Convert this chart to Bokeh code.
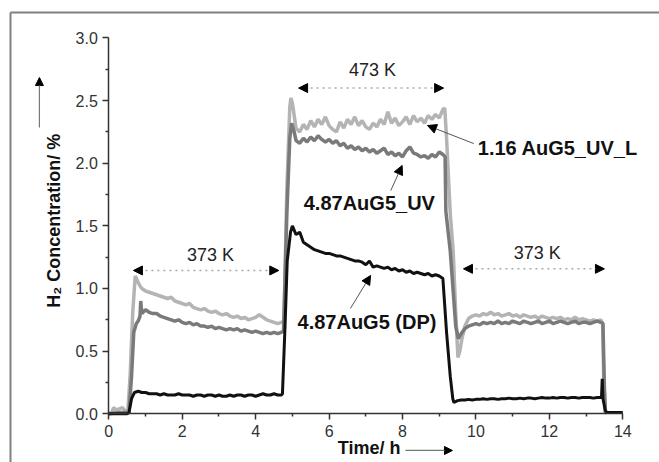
import numpy as np
from bokeh.plotting import figure
from bokeh.models import Range1d, FixedTicker, NumeralTickFormatter, Label, Arrow, NormalHead
from bokeh.embed import file_html
from bokeh.resources import INLINE

# ---------------- data ----------------
x_ticks = [0, 2, 4, 6, 8, 10, 12, 14]
x_minor = [1, 3, 5, 7, 9, 11, 13]
y_ticks = [0.0, 0.5, 1.0, 1.5, 2.0, 2.5, 3.0]
y_minor = [0.25, 0.75, 1.25, 1.75, 2.25, 2.75]


def grid(a, b):
    return [round(v, 2) for v in np.arange(a, b + 0.05, 0.1)]


# 4.87AuG5 (DP) - black
t_dp = ([0.0, 0.5, 0.55, 0.62, 0.7] + grid(0.8, 4.7) + [4.73, 4.8, 4.86, 4.95]
        + grid(5.0, 9.0) + [9.1, 9.13, 9.2, 9.3, 9.37, 9.4, 9.5] + grid(9.6, 13.4)
        + [13.42, 13.44, 13.46, 13.52, 13.56, 14.0])
h2_dp = ([0.0, 0.0, 0.01, 0.12, 0.17]
         + [0.18, 0.17, 0.17, 0.16, 0.16, 0.16, 0.15, 0.16, 0.15, 0.15,
            0.15, 0.16, 0.15, 0.15, 0.15, 0.14, 0.15, 0.15, 0.14, 0.15,
            0.15, 0.14, 0.15, 0.14, 0.14, 0.15, 0.14, 0.15, 0.15, 0.14,
            0.15, 0.15, 0.14, 0.15, 0.16, 0.15, 0.15, 0.16, 0.15, 0.15]
         + [0.16, 0.7, 1.22, 1.45]
         + [1.50, 1.43, 1.45, 1.37, 1.35, 1.33, 1.31, 1.30, 1.29, 1.28,
            1.28, 1.27, 1.26, 1.26, 1.25, 1.24, 1.23, 1.22, 1.22, 1.21,
            1.19, 1.22, 1.17, 1.18, 1.17, 1.16, 1.17, 1.15, 1.16, 1.14,
            1.15, 1.13, 1.14, 1.12, 1.13, 1.12, 1.11, 1.12, 1.10, 1.11, 1.10]
         + [1.08, 0.95, 0.65, 0.3, 0.12, 0.09, 0.105]
         + [0.11, 0.11, 0.115, 0.11, 0.115,
            0.115, 0.12, 0.115, 0.12, 0.12, 0.115, 0.12, 0.12, 0.125, 0.12,
            0.12, 0.125, 0.12, 0.125, 0.125, 0.12, 0.125, 0.13, 0.125, 0.125,
            0.13, 0.125, 0.13, 0.13, 0.125, 0.13, 0.13, 0.125, 0.13, 0.13,
            0.13, 0.125, 0.13, 0.13]
         + [0.13, 0.28, 0.12, 0.03, 0.01, 0.01])

# 4.87AuG5_UV - dark grey
t_uv = ([0.0, 0.3, 0.55, 0.62, 0.68, 0.75, 0.8, 0.85, 0.87, 0.9] + grid(1.0, 4.7)
        + [4.76, 4.85, 4.93, 4.98, 5.05] + grid(5.1, 9.1)
        + [9.16, 9.18, 9.3, 9.45, 9.52, 9.6, 9.7] + grid(9.8, 13.4) + [13.46, 13.5, 13.53])
h2_uv = ([0.0, 0.01, 0.01, 0.3, 0.65, 0.72, 0.74, 0.78, 0.90, 0.80]
         + [0.83, 0.81, 0.80, 0.80, 0.78, 0.77, 0.76, 0.75, 0.74, 0.75,
            0.73, 0.72, 0.73, 0.71, 0.72, 0.70, 0.70, 0.69, 0.70, 0.68,
            0.69, 0.68, 0.67, 0.68, 0.67, 0.68, 0.66, 0.67, 0.66, 0.65,
            0.66, 0.65, 0.64, 0.65, 0.64, 0.65, 0.64, 0.65]
         + [0.66, 1.6, 2.2, 2.32, 2.25]
         + [2.18, 2.16, 2.20, 2.17, 2.21, 2.18, 2.22, 2.19, 2.17,
            2.19, 2.16, 2.18, 2.14, 2.16, 2.12, 2.14, 2.11, 2.13, 2.10,
            2.12, 2.09, 2.11, 2.08, 2.10, 2.12, 2.07, 2.09, 2.06, 2.08,
            2.05, 2.10, 2.13, 2.08, 2.07, 2.05, 2.06, 2.04, 2.07, 2.05,
            2.09, 2.07]
         + [2.05, 1.62, 1.3, 0.7, 0.6, 0.64, 0.68]
         + [0.70, 0.71,
            0.72, 0.71, 0.73, 0.72, 0.73, 0.72, 0.74, 0.72, 0.73, 0.72,
            0.74, 0.73, 0.72, 0.74, 0.73, 0.72, 0.73, 0.74, 0.72, 0.73,
            0.74, 0.72, 0.73, 0.74, 0.73, 0.72, 0.73, 0.74, 0.72, 0.73,
            0.73, 0.72, 0.73, 0.74, 0.73]
         + [0.72, 0.2, 0.0])

# 1.16 AuG5_UV_L - light grey
t_uvl = ([0.0, 0.08, 0.13, 0.2, 0.3, 0.37, 0.45, 0.52, 0.58, 0.65, 0.72, 0.78, 0.85, 0.9]
         + grid(1.0, 4.7) + [4.77, 4.85, 4.93, 4.96, 5.0, 5.05, 5.1] + grid(5.2, 9.1)
         + [9.15, 9.2, 9.3, 9.38, 9.45, 9.51, 9.56, 9.62, 9.7, 9.8, 9.9]
         + grid(10.0, 13.4) + [13.45, 13.48, 13.52, 13.56])
h2_uvl = ([0.0, 0.01, 0.05, 0.03, 0.04, 0.05, 0.02, 0.03, 0.3, 0.8, 1.10, 1.06, 1.02, 1.00]
          + [0.98, 0.97, 0.96, 0.95, 0.94, 0.93, 0.92, 0.93, 0.90, 0.89,
             0.88, 0.87, 0.88, 0.85, 0.84, 0.83, 0.84, 0.82, 0.81, 0.82,
             0.80, 0.79, 0.80, 0.78, 0.77, 0.78, 0.76, 0.77, 0.75, 0.76,
             0.77, 0.79, 0.77, 0.75, 0.74, 0.73, 0.72, 0.73]
          + [0.74, 1.8, 2.45, 2.52, 2.48, 2.38, 2.28]
          + [2.25, 2.31, 2.27, 2.34, 2.29, 2.35, 2.31, 2.37,
             2.30, 2.27, 2.25, 2.33, 2.28, 2.35, 2.31, 2.37, 2.30, 2.34,
             2.29, 2.27, 2.32, 2.29, 2.35, 2.31, 2.41, 2.32, 2.36, 2.30,
             2.33, 2.37, 2.31, 2.38, 2.33, 2.36, 2.32, 2.38, 2.35, 2.39,
             2.36, 2.43]
          + [2.44, 2.2, 1.6, 1.3, 0.8, 0.45, 0.5, 0.6, 0.7, 0.76, 0.78]
          + [0.79, 0.78, 0.80, 0.79, 0.81, 0.79, 0.80, 0.78, 0.79, 0.80,
             0.78, 0.79, 0.77, 0.79, 0.78, 0.77, 0.78, 0.76, 0.78, 0.77,
             0.76, 0.77, 0.76, 0.77, 0.75, 0.76, 0.75, 0.77, 0.75, 0.76,
             0.75, 0.74, 0.75, 0.74, 0.75]
          + [0.72, 0.3, 0.02, 0.0])

FONT = "Liberation Sans"

# The frame covers the whole canvas; axes are pinned at x=0 / y=0 and bounded.
p = figure(width=659, height=462, x_range=Range1d(-2.950, 15.0), y_range=Range1d(-0.389, 3.299),
           output_backend="svg", toolbar_location=None,
           min_border_left=0, min_border_right=0, min_border_top=0, min_border_bottom=0)
p.xgrid.visible = False
p.ygrid.visible = False
p.outline_line_color = None
p.background_fill_color = "white"
p.border_fill_color = "white"

p.xaxis.ticker = FixedTicker(ticks=x_ticks, minor_ticks=x_minor)
p.yaxis.ticker = FixedTicker(ticks=y_ticks, minor_ticks=y_minor)
p.yaxis.formatter = NumeralTickFormatter(format="0.0")
p.xaxis.fixed_location = 0
p.yaxis.fixed_location = 0
p.xaxis.bounds = (0, 14)
p.yaxis.bounds = (0, 3)
for ax in (p.xaxis[0], p.yaxis[0]):
    ax.axis_line_color = "#333333"
    ax.axis_line_width = 1.5
    ax.major_tick_line_color = "#333333"
    ax.major_tick_line_width = 1.5
    ax.minor_tick_line_color = "#333333"
    ax.minor_tick_line_width = 1.5
    ax.major_tick_out = 6
    ax.major_tick_in = 0
    ax.minor_tick_out = 3
    ax.minor_tick_in = 0
    ax.major_label_text_font = FONT
    ax.major_label_text_font_size = "16px"
    ax.major_label_text_color = "#333333"
    ax.major_label_standoff = 5

# curves
p.line(t_uvl, h2_uvl, line_color="#b4b4b4", line_width=3.5)
p.line(t_uv, h2_uv, line_color="#7a7a7a", line_width=3.5)
p.line(t_dp, h2_dp, line_color="#111111", line_width=3)

# image frame lines (top and left border of the figure panel)
for xs, ys, xe, ye in [(-2.678, 3.203, 15.2, 3.203), (-2.678, 3.203, -2.678, -0.5)]:
    p.add_layout(Arrow(x_start=xs, y_start=ys, x_end=xe, y_end=ye, end=None,
                       line_color="#808080", line_width=2))

# axis labels with arrows
p.add_layout(Label(x=-1.49, y=1.54, text="H\u2082 Concentration/ %", angle=np.pi / 2,
                   text_align="center", text_baseline="middle", text_font=FONT,
                   text_font_size="18px", text_font_style="bold", text_color="#111111"))
p.add_layout(Label(x=7.09, y=-0.277, text="Time/ h", text_align="center",
                   text_baseline="middle", text_font=FONT, text_font_size="18px",
                   text_font_style="bold", text_color="#111111"))
p.add_layout(Arrow(x_start=-1.89, y_start=2.285, x_end=-1.89, y_end=2.684,
                   line_color="#777777", line_width=1.2,
                   end=NormalHead(size=8, fill_color="black", line_color="black")))
p.add_layout(Arrow(x_start=8.08, y_start=-0.293, x_end=9.36, y_end=-0.293,
                   line_color="#777777", line_width=1.2,
                   end=NormalHead(size=8, fill_color="black", line_color="black")))

# temperature ranges
temp_spans = [(0.67, 4.63, 1.144, 2.77, 1.267, "373 K"),
              (5.17, 9.12, 2.60, 7.18, 2.748, "473 K"),
              (9.66, 13.5, 1.157, 11.67, 1.283, "373 K")]
for xs, xe, ya, xt, yt, txt in temp_spans:
    p.add_layout(Arrow(x_start=xs, y_start=ya, x_end=xe, y_end=ya,
                       line_color="#a8a8a8", line_width=1.5, line_dash="dotted",
                       start=NormalHead(size=9, fill_color="black", line_color="black"),
                       end=NormalHead(size=9, fill_color="black", line_color="black")))
    p.add_layout(Label(x=xt, y=yt, text=txt, text_align="center", text_baseline="middle",
                       text_font=FONT, text_font_size="18px", text_color="#222222"))

# series labels with pointers
series_labels = [(10.05, 2.125, "1.16 AuG5_UV_L", 9.94, 2.157, 8.68, 2.301),
                 (5.31, 1.686, "4.87AuG5_UV", 7.68, 1.782, 7.99, 1.982),
                 (5.14, 0.729, "4.87AuG5 (DP)", 6.58, 0.840, 7.13, 1.104)]
for xl, yl, txt, xs, ys, xe, ye in series_labels:
    p.add_layout(Label(x=xl, y=yl, text=txt, text_align="left", text_baseline="middle",
                       text_font=FONT, text_font_size="20px", text_font_style="bold",
                       text_color="#111111"))
    p.add_layout(Arrow(x_start=xs, y_start=ys, x_end=xe, y_end=ye,
                       line_color="#555555", line_width=1,
                       end=NormalHead(size=9, fill_color="black", line_color="black")))

open("out.html", "w").write(file_html(p, INLINE))
